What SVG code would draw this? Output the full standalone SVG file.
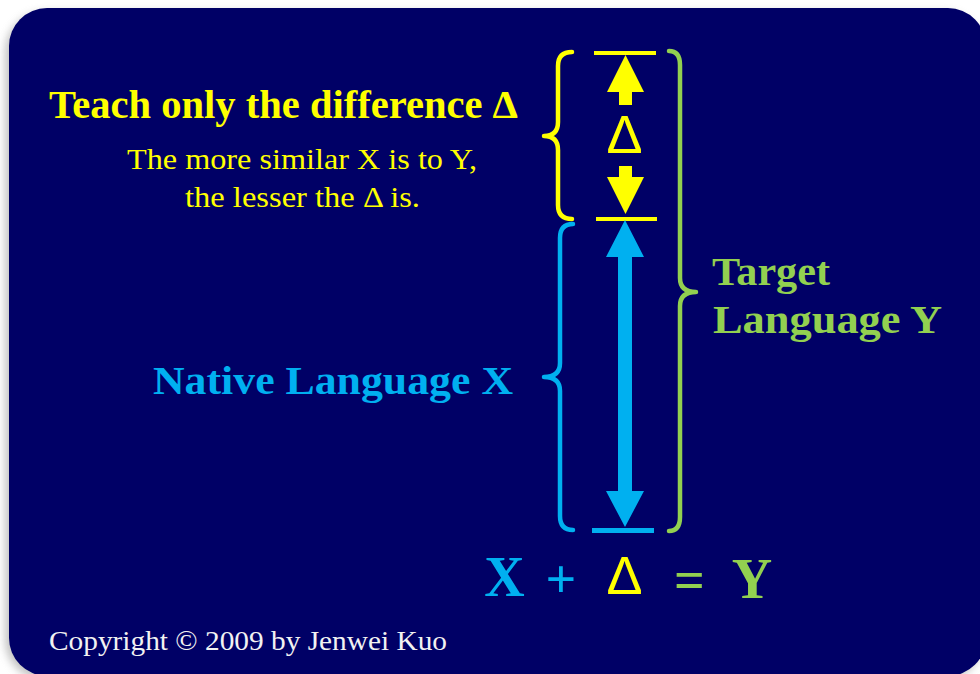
<svg xmlns="http://www.w3.org/2000/svg" width="980" height="674" viewBox="0 0 980 674">
<defs>
<filter id="sh" x="-5%" y="-5%" width="110%" height="110%"><feGaussianBlur stdDeviation="4"/></filter>
<style>
.serif{font-family:"Liberation Serif","Times New Roman",serif}
.sans{font-family:"Liberation Sans",Arial,sans-serif}
.yel{fill:#ffff00}
.blu{fill:#00b0f0}
.grn{fill:#92d050}
.brace{fill:none;stroke-width:4.5;stroke-linecap:round;stroke-linejoin:round}
</style>
</defs>
<rect x="0" y="0" width="980" height="674" fill="#ffffff"/>
<rect x="5" y="12" width="978" height="668" rx="40" fill="#9a9a9a" opacity="0.6" filter="url(#sh)"/>
<rect x="9" y="8" width="977" height="668" rx="38" fill="#000066"/>

<g id="connectors">
<rect x="594" y="51" width="62" height="4" class="yel"/>
<rect x="596" y="217" width="61" height="4" class="yel"/>
<rect x="592" y="528" width="62" height="5" class="blu"/>
<polygon class="yel" points="625.5,55 644,92 632,92 632,105 619,105 619,92 607,92"/>
<polygon class="yel" points="619,166 632,166 632,177 644,177 625.5,214 607,177 619,177"/>
<polygon class="blu" points="625,220 644,257 632,257 632,491 644,491 625,527 606,491 618,491 618,257 606,257"/>
</g>

<g id="delta-brace">
<path class="brace" stroke="#ffff00" d="M572,52 Q558,52 558,66 L558,122 Q558,136 544,136 Q558,136 558,150 L558,205 Q558,219 572,219"/>
</g>
<g id="native-brace">
<path class="brace" stroke="#00b0f0" d="M573,224 Q560,224 560,238 L560,363 Q560,377 544,377 Q560,377 560,391 L560,516 Q560,530 573,530"/>
</g>
<g id="target-brace">
<path class="brace" stroke="#92d050" d="M669,51 Q680,51 680,65 L680,278 Q680,292 696,292 Q680,292 680,306 L680,517 Q680,531 669,531"/>
</g>

<g id="delta-label">
<text class="sans yel" x="624.5" y="153" font-size="54" text-anchor="middle">Δ</text>
</g>

<g id="teach">
<text class="serif yel" x="49" y="118" font-size="40" font-weight="bold" textLength="469" lengthAdjust="spacingAndGlyphs">Teach only the difference Δ</text>
<text class="serif yel" x="127" y="169" font-size="30" textLength="350" lengthAdjust="spacingAndGlyphs">The more similar  X is to Y,</text>
<text class="serif yel" x="185" y="207" font-size="30" textLength="235" lengthAdjust="spacingAndGlyphs">the lesser  the Δ is.</text>
</g>

<g id="native">
<text class="serif blu" x="153" y="394" font-size="40" font-weight="bold" textLength="360" lengthAdjust="spacingAndGlyphs">Native Language  X</text>
</g>

<g id="target">
<text class="serif grn" x="712" y="285" font-size="40" font-weight="bold" textLength="118" lengthAdjust="spacingAndGlyphs">Target</text>
<text class="serif grn" x="713" y="333" font-size="40" font-weight="bold" textLength="229" lengthAdjust="spacingAndGlyphs">Language  Y</text>
</g>

<g id="equation">
<text class="serif blu" x="504.5" y="596" font-size="56" font-weight="bold" text-anchor="middle">X</text>
<text class="serif blu" x="561" y="597" font-size="54" font-weight="bold" text-anchor="middle">+</text>
<text class="sans yel" x="624.5" y="594" font-size="54" text-anchor="middle">Δ</text>
<text class="serif grn" x="689.5" y="598" font-size="54" font-weight="bold" text-anchor="middle">=</text>
<text class="serif grn" x="752" y="598" font-size="56" font-weight="bold" text-anchor="middle">Y</text>
</g>

<g id="copyright">
<text class="serif" x="49" y="650" font-size="27" fill="#f2f2f2" textLength="398" lengthAdjust="spacingAndGlyphs">Copyright © 2009 by Jenwei Kuo</text>
</g>
</svg>
